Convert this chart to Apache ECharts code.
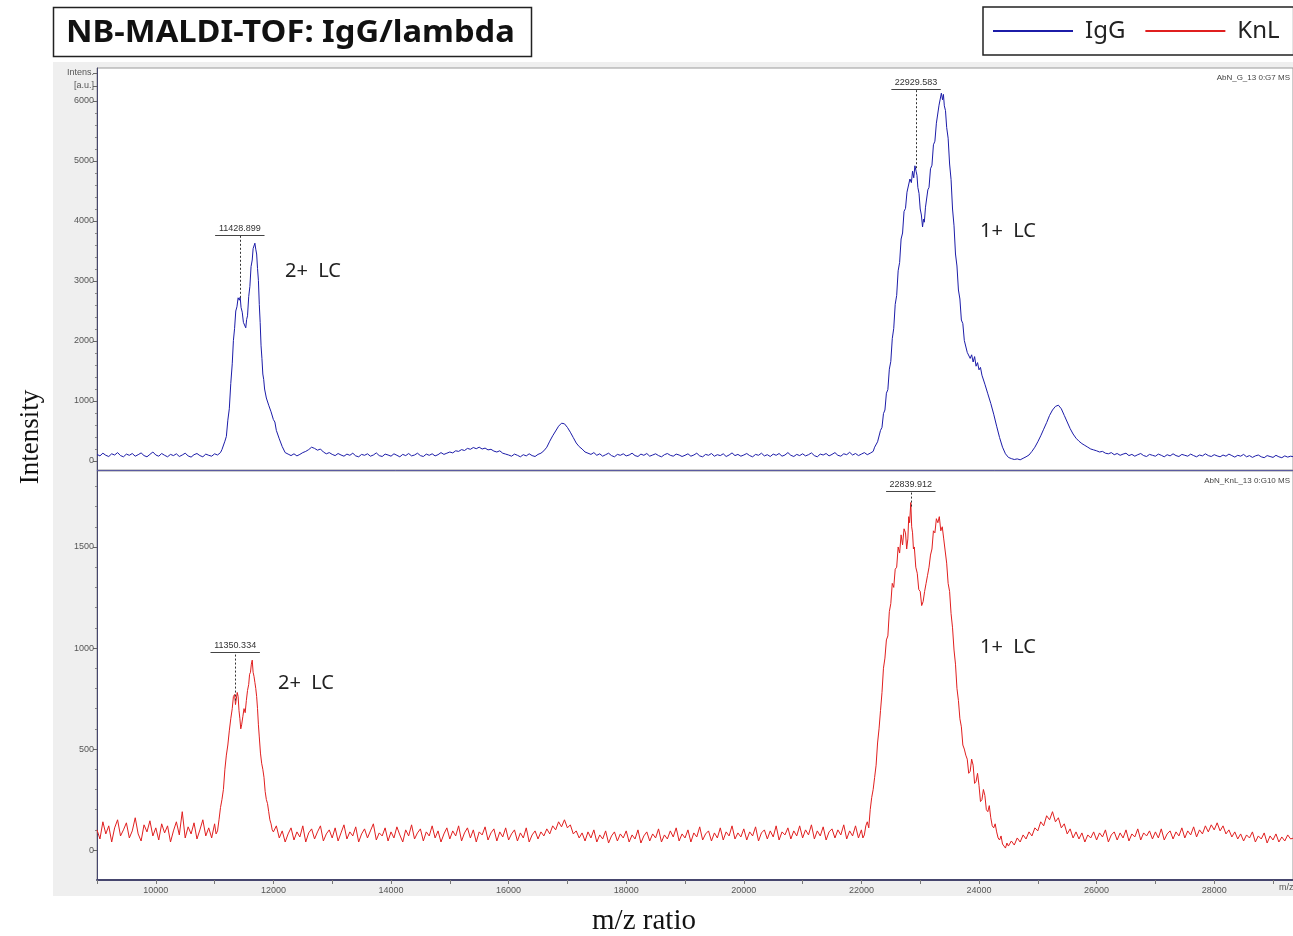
<!DOCTYPE html>
<html><head><meta charset="utf-8">
<script src="https://cdn.jsdelivr.net/npm/echarts@6/dist/echarts.min.js"></script>
<style>html,body{margin:0;padding:0;background:#fff}#c{width:1293px;height:936px}</style>
</head><body><div id="c"></div><script>
// ---------- data ----------
const seriesNames = ['IgG', 'KnL'];
const xTickLabels = [10000,12000,14000,16000,18000,20000,22000,24000,26000,28000];
const xTicks = [9000,10000,11000,12000,13000,14000,15000,16000,17000,18000,19000,20000,21000,22000,23000,24000,25000,26000,27000,28000,29000];
const iggTickLabels = [0,1000,2000,3000,4000,5000,6000];
const knlTickLabels = [0,500,1000,1500];
const peakIgG = [11428.899, 22929.583];
const peakKnL = [11350.334, 22839.912];
const peakIgGHeight = [2720, 4880];
const peakKnLHeight = [740, 1700];
const rawTags = ['AbN_G_13 0:G7 MS', 'AbN_KnL_13 0:G10 MS'];

const iggSpectrum = [
[9000,110],[9050,85],[9100,130],[9150,95],[9200,75],[9250,120],[9300,100],[9350,140],[9400,90],[9450,70],[9500,115],[9550,95],[9600,125],[9650,80],[9700,105],[9750,135],[9800,90],[9850,70],[9900,110],[9950,150],
[10000,100],[10050,80],[10100,125],[10150,95],[10200,70],[10250,110],[10300,90],[10350,120],[10400,75],[10450,100],[10500,130],[10550,85],[10600,65],[10650,105],[10700,125],[10750,90],[10800,70],[10850,115],[10900,95],[10950,80],
[11000,120],[11050,100],[11100,140],[11125,190],[11150,200],[11175,330],[11200,410],[11225,680],[11250,870],[11275,1290],[11300,1620],[11320,2010],[11340,2210],[11360,2500],[11380,2570],[11400,2720],[11420,2680],[11435,2730],[11450,2560],[11470,2480],[11490,2310],[11510,2340],[11530,2220],[11545,2360],[11560,2420],[11580,2740],[11600,2910],[11620,3240],[11640,3350],[11655,3540],[11670,3560],[11685,3630],[11700,3530],[11715,3450],[11730,3210],[11745,3010],[11760,2610],[11775,2310],[11790,1920],[11805,1710],[11820,1450],[11835,1360],[11850,1200],[11865,1180],[11880,1050],[11900,1050],[11920,930],[11940,930],[11960,820],[11980,800],[12000,690],[12025,650],[12050,510],[12075,480],[12100,370],[12125,340],[12150,240],[12175,220],[12200,140],[12250,115],[12300,90],[12350,120],[12400,85],[12450,110],[12500,140],[12550,160],[12600,190],[12650,230],[12700,210],[12750,180],[12800,200],[12850,150],[12900,120],[12950,140],
[13000,110],[13050,90],[13100,125],[13150,100],[13200,80],[13250,115],[13300,95],[13350,130],[13400,85],[13450,70],[13500,110],[13550,95],[13600,120],[13650,80],[13700,100],[13750,135],[13800,90],[13850,75],[13900,115],[13950,100],
[14000,80],[14050,120],[14100,95],[14150,70],[14200,110],[14250,90],[14300,125],[14350,85],[14400,100],[14450,130],[14500,90],[14550,75],[14600,115],[14650,95],[14700,120],[14750,85],[14800,105],[14850,140],[14900,110],[14950,130],
[15000,150],[15050,135],[15100,170],[15150,160],[15200,190],[15250,175],[15300,210],[15350,195],[15400,225],[15450,205],[15500,230],[15550,200],[15600,215],[15650,185],[15700,195],[15750,165],[15800,150],[15850,170],[15900,130],[15950,115],
[16000,100],[16050,80],[16100,115],[16150,95],[16200,70],[16250,105],[16300,85],[16350,120],[16400,90],[16450,75],[16500,110],[16550,130],[16600,170],[16650,230],[16700,330],[16750,420],[16800,500],[16850,580],[16900,630],[16950,620],
[17000,560],[17050,480],[17100,390],[17150,300],[17200,240],[17250,200],[17300,150],[17350,130],[17400,110],[17450,140],[17500,95],[17550,120],[17600,80],[17650,105],[17700,130],[17750,90],[17800,70],[17850,110],[17900,95],[17950,120],
[18000,85],[18050,100],[18100,130],[18150,90],[18200,75],[18250,115],[18300,95],[18350,125],[18400,80],[18450,100],[18500,120],[18550,90],[18600,70],[18650,105],[18700,125],[18750,95],[18800,80],[18850,115],[18900,100],[18950,75],
[19000,95],[19050,120],[19100,80],[19150,100],[19200,130],[19250,85],[19300,70],[19350,110],[19400,95],[19450,125],[19500,80],[19550,105],[19600,90],[19650,120],[19700,75],[19750,100],[19800,135],[19850,90],[19900,110],[19950,80],
[20000,100],[20050,125],[20100,90],[20150,70],[20200,110],[20250,95],[20300,130],[20350,85],[20400,105],[20450,75],[20500,115],[20550,95],[20600,125],[20650,80],[20700,100],[20750,140],[20800,95],[20850,75],[20900,110],[20950,90],
[21000,120],[21050,85],[21100,105],[21150,135],[21200,90],[21250,70],[21300,115],[21350,100],[21400,125],[21450,85],[21500,110],[21550,140],[21600,95],[21650,80],[21700,120],[21750,105],[21800,145],[21850,100],[21900,125],[21950,90],
[22000,115],[22050,140],[22100,105],[22150,130],[22200,160],[22225,230],[22250,210],[22275,320],[22300,340],[22325,510],[22350,560],[22375,790],[22400,850],[22425,1130],[22450,1190],[22475,1530],[22500,1660],[22525,2040],[22550,2210],[22575,2610],[22600,2760],[22625,3170],[22650,3310],[22675,3700],[22700,3800],[22725,4160],[22750,4210],[22775,4480],[22800,4460],[22825,4700],[22850,4640],[22870,4830],[22890,4720],[22910,4920],[22930,4830],[22945,4760],[22960,4560],[22980,4460],[23000,4200],[23020,4100],[23040,3900],[23055,4030],[23070,3980],[23090,4230],[23110,4240],[23130,4520],[23150,4560],[23175,4870],[23200,4930],[23225,5270],[23250,5330],[23275,5630],[23300,5650],[23320,5930],[23340,5940],[23360,6130],[23380,6020],[23395,6110],[23410,5920],[23430,5840],[23450,5560],[23475,5380],[23500,4950],[23525,4690],[23550,4200],[23575,3920],[23600,3450],[23625,3250],[23650,2850],[23675,2700],[23700,2350],[23725,2290],[23750,2010],[23775,1980],[23800,1810],[23825,1840],[23850,1710],[23875,1770],[23900,1650],[23925,1740],[23950,1580],[23975,1640],[24000,1520],[24025,1560],[24050,1430],[24075,1420],[24100,1280],[24125,1280],[24150,1120],[24175,1120],[24200,960],[24225,940],[24250,780],[24275,750],[24300,580],[24325,550],[24350,390],[24375,360],[24400,230],[24425,220],[24450,120],[24475,120],[24500,60],[24550,40],[24600,25],[24650,35],[24700,20],[24750,45],[24800,70],[24850,100],[24900,160],[24950,230],[25000,320],[25050,420],[25100,530],[25150,640],[25200,760],[25250,850],[25300,910],[25350,930],[25400,870],[25450,760],[25500,650],[25550,540],[25600,450],[25650,380],[25700,330],[25750,290],[25800,260],[25850,230],[25900,200],[25950,185],
[26000,170],[26050,150],[26100,160],[26150,130],[26200,120],[26250,140],[26300,105],[26350,125],[26400,95],[26450,115],[26500,130],[26550,90],[26600,110],[26650,80],[26700,105],[26750,125],[26800,90],[26850,75],[26900,110],[26950,95],
[27000,80],[27050,115],[27100,95],[27150,70],[27200,105],[27250,85],[27300,120],[27350,90],[27400,75],[27450,110],[27500,95],[27550,80],[27600,115],[27650,90],[27700,70],[27750,100],[27800,85],[27850,120],[27900,90],[27950,75],
[28000,105],[28050,85],[28100,70],[28150,100],[28200,80],[28250,115],[28300,90],[28350,65],[28400,95],[28450,80],[28500,110],[28550,70],[28600,90],[28650,60],[28700,85],[28750,100],[28800,70],[28850,55],[28900,90],[28950,75],
[29000,60],[29050,95],[29100,70],[29150,55],[29200,85],[29250,65],[29300,80],[29350,70]
];

const knlSpectrum = [
[9000,100],[9050,55],[9100,140],[9150,80],[9200,120],[9250,40],[9300,110],[9350,150],[9400,70],[9450,100],[9500,135],[9550,60],[9600,95],[9650,160],[9700,80],[9750,45],[9800,125],[9850,90],[9900,145],[9950,70],
[10000,110],[10050,50],[10100,130],[10150,85],[10200,120],[10250,40],[10300,95],[10350,140],[10400,75],[10450,190],[10500,60],[10550,115],[10600,80],[10650,135],[10700,55],[10750,100],[10800,150],[10850,70],[10900,110],[10950,60],
[11000,130],[11025,80],[11050,95],[11075,150],[11100,210],[11125,250],[11150,300],[11175,400],[11200,470],[11225,520],[11250,590],[11275,650],[11300,700],[11320,760],[11340,770],[11355,720],[11370,720],[11385,780],[11400,760],[11415,690],[11430,650],[11445,600],[11460,620],[11480,660],[11500,700],[11520,680],[11540,740],[11560,790],[11580,820],[11595,870],[11610,880],[11625,920],[11640,940],[11655,880],[11670,860],[11685,830],[11700,800],[11715,760],[11730,700],[11745,620],[11760,560],[11780,480],[11800,430],[11820,400],[11840,360],[11860,290],[11880,250],[11900,230],[11920,190],[11940,150],[11960,130],[11980,100],[12000,90],[12050,120],[12100,60],[12150,95],[12200,40],[12250,80],[12300,110],[12350,50],[12400,90],[12450,65],[12500,120],[12550,40],[12600,85],[12650,105],[12700,55],[12750,90],[12800,120],[12850,45],[12900,80],[12950,100],
[13000,60],[13050,110],[13100,45],[13150,85],[13200,125],[13250,55],[13300,90],[13350,70],[13400,115],[13450,40],[13500,80],[13550,105],[13600,60],[13650,95],[13700,130],[13750,50],[13800,85],[13850,70],[13900,110],[13950,45],
[14000,90],[14050,60],[14100,115],[14150,75],[14200,40],[14250,100],[14300,70],[14350,125],[14400,55],[14450,85],[14500,105],[14550,45],[14600,90],[14650,70],[14700,120],[14750,60],[14800,95],[14850,40],[14900,80],[14950,110],
[15000,55],[15050,95],[15100,70],[15150,120],[15200,45],[15250,85],[15300,110],[15350,60],[15400,100],[15450,40],[15500,90],[15550,75],[15600,115],[15650,50],[15700,85],[15750,105],[15800,45],[15850,90],[15900,65],[15950,110],
[16000,50],[16050,80],[16100,100],[16150,45],[16200,85],[16250,60],[16300,110],[16350,40],[16400,75],[16450,95],[16500,55],[16550,90],[16600,70],[16650,105],[16700,80],[16750,120],[16800,100],[16850,140],[16900,115],[16950,150],
[17000,110],[17050,125],[17100,80],[17150,95],[17200,60],[17250,85],[17300,45],[17350,90],[17400,60],[17450,100],[17500,40],[17550,75],[17600,55],[17650,95],[17700,35],[17750,70],[17800,90],[17850,45],[17900,80],[17950,60],
[18000,95],[18050,40],[18100,75],[18150,55],[18200,100],[18250,35],[18300,70],[18350,90],[18400,45],[18450,80],[18500,60],[18550,105],[18600,40],[18650,75],[18700,55],[18750,95],[18800,65],[18850,110],[18900,45],[18950,80],
[19000,60],[19050,100],[19100,40],[19150,85],[19200,65],[19250,115],[19300,50],[19350,80],[19400,95],[19450,45],[19500,85],[19550,60],[19600,110],[19650,50],[19700,90],[19750,70],[19800,120],[19850,55],[19900,85],[19950,65],
[20000,105],[20050,50],[20100,90],[20150,70],[20200,115],[20250,45],[20300,85],[20350,100],[20400,55],[20450,95],[20500,65],[20550,120],[20600,50],[20650,90],[20700,75],[20750,110],[20800,55],[20850,95],[20900,70],[20950,120],
[21000,60],[21050,100],[21100,75],[21150,125],[21200,55],[21250,95],[21300,70],[21350,115],[21400,50],[21450,90],[21500,105],[21550,60],[21600,100],[21650,75],[21700,125],[21750,55],[21800,95],[21850,70],[21900,120],[21950,60],
[22000,100],[22025,60],[22050,75],[22075,120],[22100,140],[22125,110],[22150,200],[22175,260],[22200,300],[22225,360],[22250,420],[22275,530],[22300,600],[22325,690],[22350,780],[22375,900],[22400,950],[22425,1040],[22450,1060],[22475,1180],[22500,1220],[22525,1320],[22550,1300],[22575,1390],[22600,1400],[22625,1500],[22650,1470],[22675,1560],[22700,1510],[22725,1590],[22750,1570],[22770,1490],[22790,1540],[22805,1650],[22820,1620],[22840,1720],[22855,1600],[22870,1570],[22885,1490],[22900,1500],[22925,1400],[22950,1370],[22975,1290],[23000,1280],[23025,1210],[23050,1230],[23075,1280],[23100,1320],[23125,1360],[23150,1400],[23175,1460],[23200,1490],[23225,1580],[23250,1570],[23275,1640],[23300,1620],[23325,1650],[23350,1580],[23375,1600],[23400,1540],[23425,1480],[23450,1420],[23475,1320],[23500,1280],[23525,1170],[23550,1100],[23575,990],[23600,920],[23625,800],[23650,740],[23675,650],[23700,610],[23725,520],[23750,500],[23775,470],[23800,450],[23825,380],[23850,390],[23875,450],[23900,420],[23925,330],[23950,340],[23975,380],[24000,320],[24025,240],[24050,250],[24075,300],[24100,270],[24125,200],[24150,190],[24175,220],[24200,160],[24225,120],[24250,110],[24275,130],[24300,90],[24325,60],[24350,50],[24375,70],[24400,30],[24425,20],[24450,10],[24475,35],[24500,20],[24550,45],[24600,25],[24650,60],[24700,40],[24750,75],[24800,55],[24850,90],[24900,70],[24950,110],[25000,95],[25050,140],[25100,120],[25150,170],[25200,150],[25250,190],[25300,140],[25350,160],[25400,110],[25450,130],[25500,80],[25550,105],[25600,60],[25650,90],[25700,55],[25750,85],[25800,40],[25850,75],[25900,60],[25950,90],
[26000,50],[26050,85],[26100,65],[26150,100],[26200,40],[26250,75],[26300,90],[26350,50],[26400,85],[26450,60],[26500,100],[26550,45],[26600,80],[26650,65],[26700,105],[26750,50],[26800,85],[26850,70],[26900,95],[26950,55],
[27000,90],[27050,60],[27100,105],[27150,50],[27200,80],[27250,95],[27300,55],[27350,90],[27400,70],[27450,110],[27500,60],[27550,95],[27600,75],[27650,115],[27700,65],[27750,100],[27800,80],[27850,120],[27900,90],[27950,125],
[28000,100],[28050,135],[28100,95],[28150,120],[28200,80],[28250,100],[28300,65],[28350,90],[28400,55],[28450,80],[28500,45],[28550,75],[28600,60],[28650,90],[28700,40],[28750,70],[28800,55],[28850,85],[28900,35],[28950,70],
[29000,50],[29050,80],[29100,40],[29150,65],[29200,45],[29250,75],[29300,55],[29350,60]
];

// ---------- chart ----------
const SANS = '"Noto Sans", "Open Sans", sans-serif';
const SERIF = '"Liberation Serif", "DejaVu Serif", serif';
const AXF = '"Liberation Sans", Arial, sans-serif';
const AXIS_COLOR = '#46466e';
const X_MIN = 9000, X_MAX = 29340;
const TOP_MIN = -150, TOP_MAX = 6550;
const BOT_MIN = -148, BOT_MAX = 1876;

const topMinor = []; for (let v = 200; v <= 5800; v += 200) if (v % 1000) topMinor.push(v);
const botMinor = []; for (let v = 100; v <= 1800; v += 100) if (v % 500) botMinor.push(v);

function yAxisMain(grid, min, max, labels, extra) {
  return {
    type: 'value', gridIndex: grid, position: 'left', min, max,
    axisLine: {show: true, lineStyle: {color: AXIS_COLOR, width: 1}},
    axisTick: {show: true, length: 4, lineStyle: {color: '#666'}, customValues: labels.concat(extra.map(e => e[0]))},
    axisLabel: {show: true, fontSize: 9, fontFamily: AXF, color: '#555', margin: 3,
      customValues: labels.concat(extra.map(e => e[0])),
      formatter: v => { const e = extra.find(q => q[0] === v); return e ? e[1] : String(v); }},
    splitLine: {show: false}
  };
}
function yAxisMinor(grid, min, max, ticks) {
  return {
    type: 'value', gridIndex: grid, position: 'left', offset: 0, min, max,
    axisLine: {show: false}, axisLabel: {show: false}, splitLine: {show: false},
    axisTick: {show: true, length: 2, lineStyle: {color: '#888'}, customValues: ticks}
  };
}
function peakMarks(mzs, heights, labelY, halfW) {
  const d = [];
  mzs.forEach((mz, i) => {
    d.push([{coord: [mz, heights[i]], lineStyle: {type: [2, 2], color: '#333', width: 1}},
            {coord: [mz, labelY[i]], label: {show: true, position: 'end', formatter: mz.toFixed(3),
             fontSize: 9, fontFamily: AXF, color: '#333', distance: 2}}]);
    d.push([{coord: [mz - halfW, labelY[i]], lineStyle: {type: 'solid', color: '#444', width: 1}, label: {show: false}},
            {coord: [mz + halfW, labelY[i]], label: {show: false}}]);
  });
  return {silent: true, symbol: ['none', 'none'], animation: false, data: d};
}

const chart = echarts.init(document.getElementById('c'));
chart.setOption({
  animation: false,
  backgroundColor: '#ffffff',
  legend: {
    data: seriesNames, left: 983, top: 7, width: 360, orient: 'horizontal',
    padding: [12, 14, 12, 10], borderColor: '#222', borderWidth: 1.5, backgroundColor: '#fff',
    icon: 'rect', itemWidth: 80, itemHeight: 2, itemGap: 20,
    textStyle: {fontSize: 24, fontFamily: SANS, color: '#222', padding: [0, 0, 0, 7]}
  },
  grid: [
    {left: 97, right: -3, top: 68, height: 402, show: true, backgroundColor: '#fff', borderColor: '#9a9a9a', borderWidth: 1},
    {left: 97, right: -3, top: 471, height: 409, show: true, backgroundColor: '#fff', borderColor: '#9a9a9a', borderWidth: 1}
  ],
  xAxis: [
    {type: 'value', gridIndex: 0, min: X_MIN, max: X_MAX,
     axisLine: {show: true, onZero: false, lineStyle: {color: '#5a5aa0', width: 1}},
     axisTick: {show: false}, axisLabel: {show: false}, splitLine: {show: false}},
    {type: 'value', gridIndex: 1, min: X_MIN, max: X_MAX,
     axisLine: {show: true, onZero: false, lineStyle: {color: AXIS_COLOR, width: 2}},
     axisTick: {show: true, length: 4, lineStyle: {color: '#777'}, customValues: xTicks},
     axisLabel: {show: true, fontSize: 9, fontFamily: AXF, color: '#555', margin: 6,
       customValues: xTickLabels, formatter: v => String(v)},
     splitLine: {show: false}}
  ],
  yAxis: [
    yAxisMain(0, TOP_MIN, TOP_MAX, iggTickLabels, [[6250, '[a.u.]'], [6467, 'Intens.']]),
    yAxisMain(1, BOT_MIN, BOT_MAX, knlTickLabels, []),
    yAxisMinor(0, TOP_MIN, TOP_MAX, topMinor),
    yAxisMinor(1, BOT_MIN, BOT_MAX, botMinor)
  ],
  series: [
    {name: seriesNames[0], type: 'line', xAxisIndex: 0, yAxisIndex: 0, data: iggSpectrum,
     showSymbol: false, symbol: 'none', color: '#1c1ca8', lineStyle: {width: 1, color: '#1c1ca8'},
     clip: true, z: 3, markLine: peakMarks(peakIgG, peakIgGHeight, [3770, 6200], 420)},
    {name: seriesNames[1], type: 'line', xAxisIndex: 1, yAxisIndex: 1, data: knlSpectrum,
     showSymbol: false, symbol: 'none', color: '#e01f1f', lineStyle: {width: 1, color: '#e01f1f'},
     clip: true, z: 3, markLine: peakMarks(peakKnL, peakKnLHeight, [980, 1777], 420)}
  ],
  graphic: [
    {type: 'rect', z: -10, silent: true, shape: {x: 53, y: 62, width: 1245, height: 834}, style: {fill: '#efefef'}},
    {type: 'rect', z: 100, silent: true, shape: {x: 53.5, y: 7.5, width: 478, height: 49}, style: {fill: '#fff', stroke: '#222', lineWidth: 1.5}},
    {type: 'text', z: 101, silent: true, x: 66, y: 33, scaleX: 1.09, style: {text: 'NB-MALDI-TOF: IgG/lambda', font: 'bold 30px ' + SANS, fill: '#111', textVerticalAlign: 'middle'}},
    {type: 'text', z: 101, silent: true, x: 285, y: 271, style: {text: '2+  LC', font: '20px ' + SANS, fill: '#222', textVerticalAlign: 'middle'}},
    {type: 'text', z: 101, silent: true, x: 980, y: 231, style: {text: '1+  LC', font: '20px ' + SANS, fill: '#222', textVerticalAlign: 'middle'}},
    {type: 'text', z: 101, silent: true, x: 278, y: 683, style: {text: '2+  LC', font: '20px ' + SANS, fill: '#222', textVerticalAlign: 'middle'}},
    {type: 'text', z: 101, silent: true, x: 980, y: 647, style: {text: '1+  LC', font: '20px ' + SANS, fill: '#222', textVerticalAlign: 'middle'}},
    {type: 'text', z: 101, silent: true, x: 1290, y: 78, style: {text: rawTags[0], font: '8px ' + AXF, fill: '#444', textAlign: 'right', textVerticalAlign: 'middle'}},
    {type: 'text', z: 101, silent: true, x: 1290, y: 481, style: {text: rawTags[1], font: '8px ' + AXF, fill: '#444', textAlign: 'right', textVerticalAlign: 'middle'}},
    {type: 'text', z: 101, silent: true, x: 1279, y: 888, style: {text: 'm/z', font: '9px ' + AXF, fill: '#555', textVerticalAlign: 'middle'}},
    {type: 'text', z: 101, silent: true, x: 31, y: 437, rotation: Math.PI / 2, style: {text: 'Intensity', font: '27px ' + SERIF, fill: '#111', textAlign: 'center', textVerticalAlign: 'middle'}},
    {type: 'text', z: 101, silent: true, x: 644, y: 921, style: {text: 'm/z ratio', font: '29px ' + SERIF, fill: '#111', textAlign: 'center', textVerticalAlign: 'middle'}}
  ]
});
</script></body></html>
